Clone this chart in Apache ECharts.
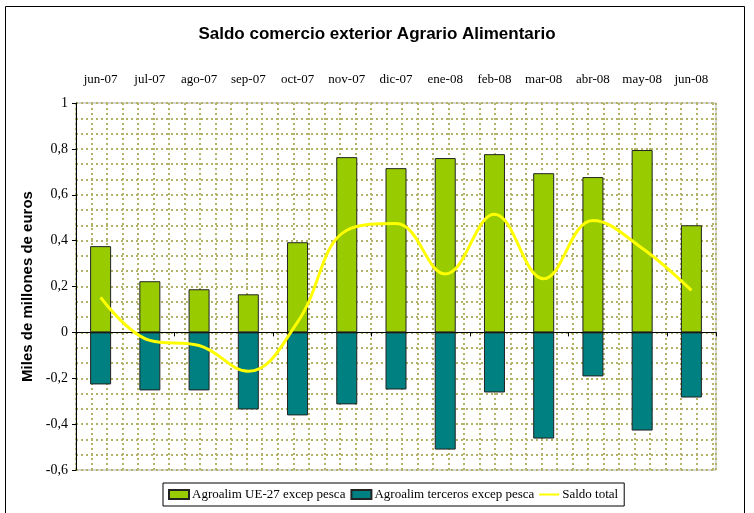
<!DOCTYPE html>
<html>
<head>
<meta charset="utf-8">
<script src="https://cdn.jsdelivr.net/npm/echarts@6/dist/echarts.min.js"></script>
<style>
  html, body { margin: 0; padding: 0; background: #fff; }
  #container { width: 754px; height: 513px; }
</style>
</head>
<body>
<div id="container"></div>
<script>
var months = ['jun-07', 'jul-07', 'ago-07', 'sep-07', 'oct-07', 'nov-07', 'dic-07',
              'ene-08', 'feb-08', 'mar-08', 'abr-08', 'may-08', 'jun-08'];
var ueValues = [0.376, 0.223, 0.188, 0.166, 0.393, 0.764, 0.716, 0.760, 0.777, 0.694, 0.677, 0.795, 0.467];
var tercerosValues = [-0.227, -0.253, -0.253, -0.336, -0.362, -0.314, -0.249, -0.511, -0.262, -0.463, -0.192, -0.428, -0.284];
var totalValues = [0.153, -0.035, -0.057, -0.170, 0.045, 0.445, 0.475, 0.255, 0.515, 0.234, 0.488, 0.367, 0.183];

var serif = '"Liberation Serif", "DejaVu Serif", serif';
var sans = '"Liberation Sans", Arial, sans-serif';
// dotted olive background grid (Excel-style pattern)
var dots = { color: '#b2b268', width: 2, type: [2, 3] };

var myChart = echarts.init(document.getElementById('container'));
var option = {
    animation: false,
    title: {
        text: 'Saldo comercio exterior Agrario Alimentario',
        left: 'center',
        top: 21,
        textStyle: { fontFamily: sans, fontSize: 17, fontWeight: 'bold', color: '#000' }
    },
    graphic: [{
        type: 'rect',
        shape: { x: 5.5, y: 6.5, width: 739, height: 510 },
        style: { fill: 'none', stroke: '#000', lineWidth: 1 },
        silent: true
    }],
    legend: {
        left: 163,
        top: 483,
        itemWidth: 20,
        itemHeight: 9,
        itemGap: 5,
        padding: [5, 6, 5, 5],
        borderColor: '#000',
        borderWidth: 1,
        textStyle: { fontFamily: serif, fontSize: 13, color: '#000', padding: [0, 0, 0, -2] },
        data: [
            { name: 'Agroalim UE-27 excep pesca', icon: 'rect' },
            { name: 'Agroalim terceros excep pesca', icon: 'rect' },
            { name: 'Saldo total', icon: 'path://M0,0L20,0L20,0.05L0,0.05ZM0,3.5L20,3.5L20,5.5L0,5.5ZM0,9L20,9L20,9.05L0,9.05Z' }
        ]
    },
    grid: {
        left: 76, right: 38, top: 103, bottom: 43,
        show: true,
        borderColor: '#b0b0b0',
        borderWidth: 1
    },
    xAxis: [{
        type: 'category',
        position: 'top',
        data: months,
        axisLine: { show: false },
        axisTick: { show: false },
        axisLabel: { interval: 0, fontFamily: serif, fontSize: 13, color: '#000', margin: 17 }
    }, {
        type: 'category',
        data: months,
        axisLine: { onZero: true, onZeroAxisIndex: 0, lineStyle: { color: '#000', width: 1 } },
        axisTick: { show: true, inside: false, length: 4, lineStyle: { color: '#000' } },
        axisLabel: { show: false }
    }, {
        type: 'value',
        min: 0,
        max: 41.24,
        interval: 1,
        axisLine: { show: false },
        axisTick: { show: false },
        axisLabel: { show: false },
        splitLine: { show: true, lineStyle: dots }
    }],
    yAxis: [{
        type: 'value',
        min: -0.6,
        max: 1,
        interval: 0.2,
        name: 'Miles de millones de euros',
        nameLocation: 'middle',
        nameGap: 41,
        nameTextStyle: { fontFamily: sans, fontSize: 15, fontWeight: 'bold', color: '#000' },
        axisLine: { show: true, lineStyle: { color: '#000' } },
        axisTick: { show: true, length: 4, lineStyle: { color: '#000' } },
        axisLabel: {
            fontFamily: serif, fontSize: 14, color: '#000', margin: 8,
            formatter: function (v) {
                return (Math.round(v * 10) / 10).toString().replace('.', ',');
            }
        },
        splitLine: { show: false }
    }, {
        type: 'value',
        min: 0,
        max: 24,
        interval: 1,
        axisLine: { show: false },
        axisTick: { show: false },
        axisLabel: { show: false },
        splitLine: { show: true, lineStyle: dots }
    }],
    series: [{
        name: 'Agroalim UE-27 excep pesca',
        type: 'bar',
        xAxisIndex: 1,
        barWidth: 21,
        barGap: '-100%',
        itemStyle: { color: '#99cc00', borderColor: '#222', borderWidth: 1 },
        data: ueValues
    }, {
        name: 'Agroalim terceros excep pesca',
        type: 'bar',
        xAxisIndex: 1,
        barWidth: 21,
        barGap: '-100%',
        itemStyle: { color: '#008080', borderColor: '#222', borderWidth: 1 },
        data: tercerosValues
    }, {
        name: 'Saldo total',
        type: 'line',
        xAxisIndex: 1,
        smooth: 0.4,
        symbol: 'none',
        lineStyle: { color: '#ffff00', width: 3 },
        itemStyle: { color: '#ffff00' },
        z: 5,
        data: totalValues
    }]
};
myChart.setOption(option);
</script>
</body>
</html>
